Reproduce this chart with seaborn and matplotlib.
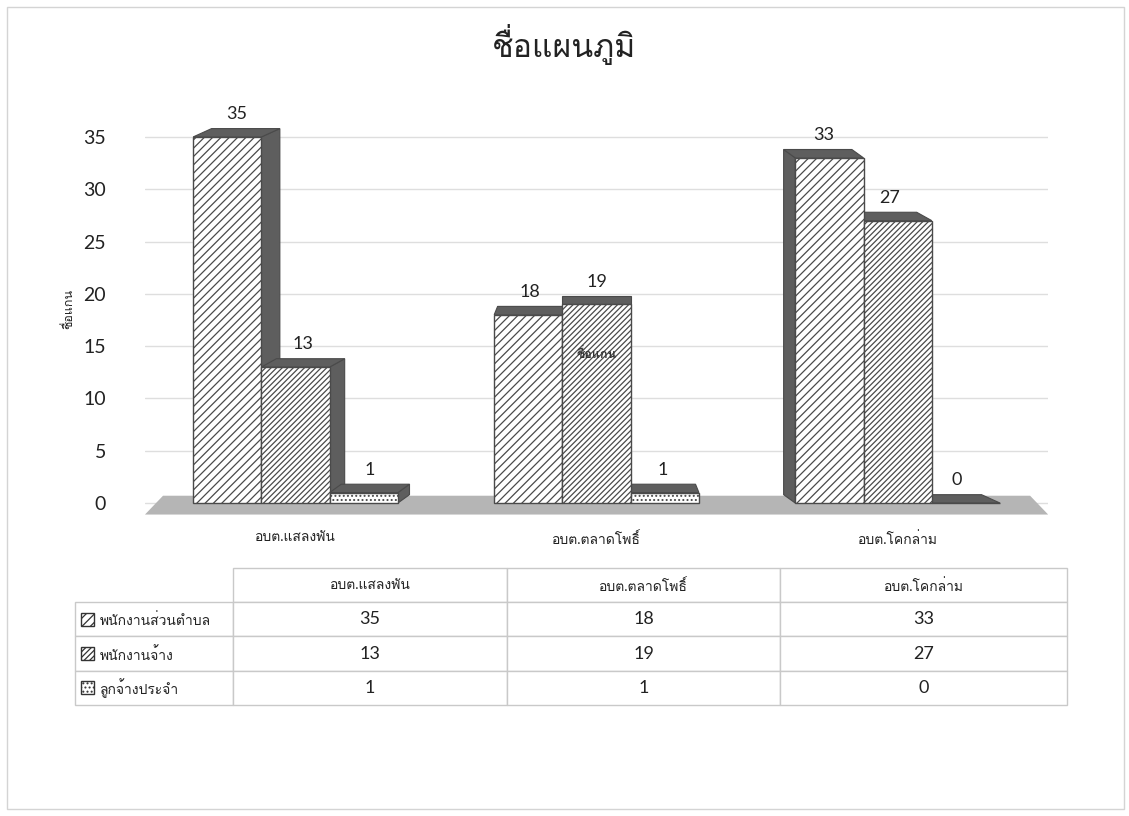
import numpy as np
import pandas as pd
import matplotlib
matplotlib.use("Agg")
import matplotlib.pyplot as plt
import seaborn as sns
from matplotlib import font_manager as fm
from matplotlib.patches import Polygon, Rectangle

# ---------------- data ----------------
title = "ชื่อแผนภูมิ"
axis_title = "ชื่อแกน"
categories = ["อบต.แสลงพัน", "อบต.ตลาดโพธิ์", "อบต.โคกล่าม"]
series_names = ["พนักงานส่วนตำบล", "พนักงานจ้าง", "ลูกจ้างประจำ"]
staff_officers = [35, 18, 33]
contract_staff = [13, 19, 27]
permanent_workers = [1, 1, 0]
y_ticks = [0, 5, 10, 15, 20, 25, 30, 35]


def find_thai_font():
    try:
        from fontTools.ttLib import TTFont
    except Exception:
        return None
    for f in sorted(fm.findSystemFonts()):
        try:
            t = TTFont(f, fontNumber=0, lazy=True)
            cmap = t.getBestCmap()
            if cmap and 0x0E01 in cmap and 0x0E34 in cmap and 0x0E48 in cmap:
                return fm.FontProperties(fname=f).get_name()
        except Exception:
            continue
    return None


sns.set_theme(style="white")
thai = find_thai_font()
families = ["Lato"] + ([thai] if thai else []) + ["DejaVu Sans"]
plt.rcParams["font.family"] = families
plt.rcParams["hatch.color"] = "#4a4a4a"
plt.rcParams["hatch.linewidth"] = 0.9

EDGE = "#4a4a4a"
DARK = "#5e5e5e"
TXT = "#222222"

df = pd.DataFrame({
    "category": categories * 3,
    "series": np.repeat(series_names, len(categories)),
    "value": staff_officers + contract_staff + permanent_workers,
})

fig = plt.figure(figsize=(11.29, 8.16), dpi=100)
fig.patch.set_facecolor("white")

ax = fig.add_axes([0.1284, 0.3643, 0.800, 0.4935])
sns.barplot(data=df, x="category", y="value", hue="series", order=categories,
            hue_order=series_names, palette=["white"] * 3, saturation=1,
            width=0.68, dodge=True, edgecolor=EDGE, linewidth=1.0,
            legend=False, ax=ax, zorder=3)

ax.set_xlim(-0.5, 2.5)
ax.set_ylim(-1.5, 37)
ax.set_yticks(y_ticks)
ax.yaxis.grid(True, color="#dedede", lw=1.0)
ax.xaxis.grid(False)
ax.set_axisbelow(True)
for s in ax.spines.values():
    s.set_visible(False)
ax.tick_params(axis="y", length=0, pad=28, labelsize=14, labelcolor=TXT)
ax.tick_params(axis="x", length=0, pad=9, labelsize=10, labelcolor=TXT)
ax.set_xlabel("")
ax.set_ylabel(axis_title, fontsize=9, color=TXT)
ax.yaxis.set_label_coords(-0.078, 0.52)

# floor
ax.add_patch(Polygon([(-0.5, -1.1), (2.5, -1.1), (2.44, 0.7), (-0.44, 0.7)],
                     closed=True, facecolor="#b5b5b5", edgecolor="none", zorder=1))

hatches = ["////", "//////", "...."]
x_mid = (len(categories) - 1) / 2
dy = 0.8
mid_bar_center = None
for i, cont in enumerate(ax.containers):
    for j, bar in enumerate(cont):
        bar.set_hatch(hatches[i])
        x0 = bar.get_x()
        w = bar.get_width()
        h = bar.get_height()
        x1 = x0 + w
        cx = x0 + w / 2
        dx = 0.05 * (x_mid - cx)
        top = Polygon([(x0, h), (x1, h), (x1 + dx, h + dy), (x0 + dx, h + dy)],
                      closed=True, facecolor=DARK, edgecolor=EDGE, lw=0.8, zorder=2.6)
        ax.add_patch(top)
        if abs(dx) > 0.005:
            xe = x1 if dx > 0 else x0
            side = Polygon([(xe, 0), (xe, h), (xe + dx, h + dy), (xe + dx, dy)],
                           closed=True, facecolor=DARK, edgecolor=EDGE, lw=0.8, zorder=2.5)
            ax.add_patch(side)
        ax.text(cx + dx / 2, h + dy + 0.6, f"{int(h)}", ha="center", va="bottom",
                fontsize=13, color=TXT, zorder=5)
        if i == 1 and j == 1:
            mid_bar_center = (cx, h)

if mid_bar_center is not None:
    ax.text(mid_bar_center[0], mid_bar_center[1] * 0.75, axis_title, ha="center",
            va="center", fontsize=9, fontweight="bold", color="#333333", zorder=6)

# title
fig.text(0.5, 0.946, title, ha="center", va="center", fontsize=23, color=TXT)

# data table
tax = fig.add_axes([0.0664, 0.136, 0.8787, 0.168])
tax.set_xlim(0, 1)
tax.set_ylim(0, 1)
tax.axis("off")
values = [staff_officers, contract_staff, permanent_workers]
cell_text = [[series_names[r]] + [str(v) for v in values[r]] for r in range(3)]
col_w = np.array([158, 274, 273, 287], dtype=float)
col_w = list(col_w / col_w.sum())
tbl = tax.table(cellText=cell_text, colLabels=[""] + categories, colWidths=col_w,
                cellLoc="center", bbox=[0, 0, 1, 1])
tbl.auto_set_font_size(False)
for (r, c), cell in tbl.get_celld().items():
    cell.set_edgecolor("#c9c9c9")
    cell.set_linewidth(1.0)
    cell.get_text().set_color(TXT)
    if r == 0:
        cell.get_text().set_fontsize(10)
        if c == 0:
            cell.visible_edges = ""
    elif c == 0:
        cell.get_text().set_fontsize(10)
        cell.get_text().set_horizontalalignment("left")
        cell._loc = "left"
        cell.PAD = 0.16
    else:
        cell.get_text().set_fontsize(13)

# legend keys inside the row-label cells
key_w = 13 / 992
key_h = 13 / 137
for r in range(3):
    yc = 1 - (r + 1.5) * 0.25
    tax.add_patch(Rectangle((0.006, yc - key_h / 2), key_w, key_h, facecolor="white",
                            edgecolor="#333333", hatch=hatches[r], lw=1.0, zorder=5))

# outer chart border
fig.add_artist(Rectangle((0.006, 0.008), 0.99, 0.983, transform=fig.transFigure,
                         fill=False, edgecolor="#d4d4d4", lw=1.0))

fig.savefig("out.png", dpi=100)
